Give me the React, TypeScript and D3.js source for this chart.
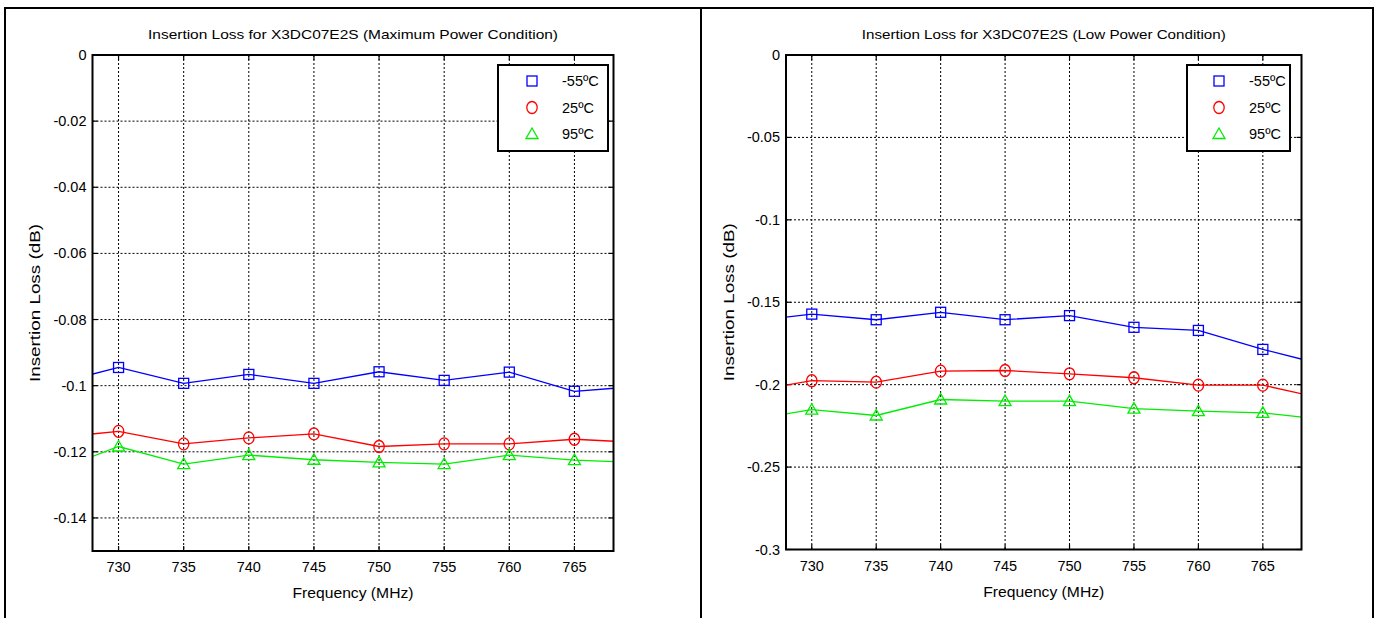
import React from "react";
import * as d3 from "d3";

// frequency points (MHz); 725 and 770 sit just outside the axes and are clipped
const freqs = [725, 730, 735, 740, 745, 750, 755, 760, 765, 770];
const freqTicks = [730, 735, 740, 745, 750, 755, 760, 765];

// maximum power condition (dB)
const maxPowerM55 = [-0.0995, -0.0945, -0.0993, -0.0966, -0.0993, -0.0958, -0.0984, -0.0959, -0.1017, -0.1002];
const maxPower25 = [-0.1158, -0.1138, -0.1176, -0.1158, -0.1146, -0.1184, -0.1176, -0.1176, -0.1162, -0.1172];
const maxPower95 = [-0.1259, -0.1184, -0.1237, -0.121, -0.1224, -0.1232, -0.1237, -0.121, -0.1225, -0.1233];

// low power condition (dB)
const lowPowerM55 = [-0.1617, -0.1572, -0.1606, -0.1561, -0.1606, -0.1581, -0.1652, -0.1671, -0.1786, -0.1884];
const lowPower25 = [-0.2044, -0.1976, -0.1985, -0.1918, -0.1914, -0.1934, -0.1958, -0.2003, -0.2003, -0.209];
const lowPower95 = [-0.2215, -0.2152, -0.2187, -0.209, -0.21, -0.21, -0.2145, -0.2161, -0.2171, -0.2214];

const maxPowerTicks = [0, -0.02, -0.04, -0.06, -0.08, -0.1, -0.12, -0.14];
const lowPowerTicks = [0, -0.05, -0.1, -0.15, -0.2, -0.25, -0.3];

const seriesNames = ["-55ºC", "25ºC", "95ºC"];
const seriesColors = ["#0000ff", "#ff0000", "#00ee00"];
const seriesMarkers = ["square", "circle", "triangle"];

const FONT = "'Liberation Sans', Arial, Helvetica, sans-serif";

function Marker({ kind, x, y, color }) {
  if (kind === "square")
    return <rect x={x - 5} y={y - 5} width={10} height={10} fill="none" stroke={color} strokeWidth={1.3} />;
  if (kind === "circle")
    return <ellipse cx={x} cy={y} rx={5.2} ry={6} fill="none" stroke={color} strokeWidth={1.3} />;
  return (
    <path
      d={`M${x},${y - 6}L${x + 6},${y + 4.5}L${x - 6},${y + 4.5}Z`}
      fill="none"
      stroke={color}
      strokeWidth={1.3}
    />
  );
}

function Panel({ id, title, box, yMin, yTicks, series, legend, ylabelX }) {
  const x = d3.scaleLinear().domain([728, 768]).range([box.x0, box.x1]);
  const y = d3.scaleLinear().domain([yMin, 0]).range([box.y1, box.y0]);
  const line = d3
    .line<number>()
    .x((_, i) => x(freqs[i]))
    .y((d) => y(d));
  const cx = (box.x0 + box.x1) / 2;
  const cy = (box.y0 + box.y1) / 2;
  const fmt = (v) => (v === 0 ? "0" : String(v));

  return (
    <g fontFamily={FONT}>
      <defs>
        <clipPath id={id}>
          <rect x={box.x0} y={box.y0} width={box.x1 - box.x0} height={box.y1 - box.y0} />
        </clipPath>
      </defs>
      <text x={cx} y={39} textAnchor="middle" fontSize={13.5} textLength={box.titleLen} lengthAdjust="spacingAndGlyphs">
        {title}
      </text>

      {/* grid */}
      {freqTicks.map((f) => (
        <line key={"gx" + f} x1={x(f)} x2={x(f)} y1={box.y0} y2={box.y1} stroke="#000" strokeWidth={1} strokeDasharray="2,2" />
      ))}
      {yTicks.map((t) => (
        <line key={"gy" + t} x1={box.x0} x2={box.x1} y1={y(t)} y2={y(t)} stroke="#000" strokeWidth={1} strokeDasharray="2,2" />
      ))}

      {/* ticks inside on all sides */}
      {freqTicks.map((f) => (
        <g key={"tx" + f} stroke="#000" strokeWidth={1.2}>
          <line x1={x(f)} x2={x(f)} y1={box.y1} y2={box.y1 - 5} />
          <line x1={x(f)} x2={x(f)} y1={box.y0} y2={box.y0 + 5} />
        </g>
      ))}
      {yTicks.map((t) => (
        <g key={"ty" + t} stroke="#000" strokeWidth={1.2}>
          <line x1={box.x0} x2={box.x0 + 5} y1={y(t)} y2={y(t)} />
          <line x1={box.x1} x2={box.x1 - 5} y1={y(t)} y2={y(t)} />
        </g>
      ))}

      {/* data */}
      <g clipPath={`url(#${id})`}>
        {series.map((vals, s) => (
          <g key={"s" + s}>
            <path d={line(vals) || ""} fill="none" stroke={seriesColors[s]} strokeWidth={1.3} />
            {vals.map((v, i) =>
              freqs[i] >= 728 && freqs[i] <= 768 ? (
                <Marker key={i} kind={seriesMarkers[s]} x={x(freqs[i])} y={y(v)} color={seriesColors[s]} />
              ) : null
            )}
          </g>
        ))}
      </g>

      <rect x={box.x0} y={box.y0} width={box.x1 - box.x0} height={box.y1 - box.y0} fill="none" stroke="#000" strokeWidth={2} />

      {/* tick labels */}
      {freqTicks.map((f) => (
        <text key={"lx" + f} x={x(f)} y={box.y1 + 21} textAnchor="middle" fontSize={14.5}>
          {f}
        </text>
      ))}
      {yTicks.map((t) => (
        <text key={"ly" + t} x={box.x0 - 6} y={y(t)} textAnchor="end" dominantBaseline="central" fontSize={14.5}>
          {fmt(t)}
        </text>
      ))}

      <text x={cx} y={box.y1 + 47} textAnchor="middle" fontSize={15} textLength={121} lengthAdjust="spacingAndGlyphs">
        Frequency (MHz)
      </text>
      <text
        transform={`translate(${ylabelX},${cy}) rotate(-90)`}
        textAnchor="middle"
        dominantBaseline="central"
        fontSize={14.5}
        textLength={158}
        lengthAdjust="spacingAndGlyphs"
      >
        Insertion Loss (dB)
      </text>

      {/* legend */}
      <rect x={legend.x} y={legend.y} width={legend.w} height={legend.h} fill="#fff" stroke="#000" strokeWidth={2} />
      {seriesNames.map((n, s) => (
        <g key={"lg" + s}>
          <Marker kind={seriesMarkers[s]} x={legend.mx} y={legend.y + 16 + s * 26.5} color={seriesColors[s]} />
          <text x={legend.tx} y={legend.y + 16 + s * 26.5} dominantBaseline="central" fontSize={14.5}>
            {n}
          </text>
        </g>
      ))}
    </g>
  );
}

export default function App() {
  return (
    <svg
      width={1380}
      height={618}
      style={{ position: "absolute", left: 0, top: 0, background: "#fff", display: "block" }}
    >
      <rect x={0} y={0} width={1380} height={618} fill="#fff" />
      <rect x={5} y={8} width={1368} height={640} fill="none" stroke="#000" strokeWidth={2} />
      <line x1={701} x2={701} y1={8} y2={618} stroke="#000" strokeWidth={2} />

      <Panel
        id="clipMax"
        title="Insertion Loss for X3DC07E2S (Maximum Power Condition)"
        box={{ x0: 92.5, x1: 613.5, y0: 55, y1: 551, titleLen: 410 }}
        yMin={-0.15}
        yTicks={maxPowerTicks}
        series={[maxPowerM55, maxPower25, maxPower95]}
        legend={{ x: 498, y: 65, w: 110, h: 86, mx: 532, tx: 562 }}
        ylabelX={35}
      />
      <Panel
        id="clipLow"
        title="Insertion Loss for X3DC07E2S (Low Power Condition)"
        box={{ x0: 786, x1: 1301.5, y0: 55, y1: 549.5, titleLen: 364 }}
        yMin={-0.3}
        yTicks={lowPowerTicks}
        series={[lowPowerM55, lowPower25, lowPower95]}
        legend={{ x: 1187, y: 65, w: 103, h: 86, mx: 1219, tx: 1249 }}
        ylabelX={729}
      />
    </svg>
  );
}
